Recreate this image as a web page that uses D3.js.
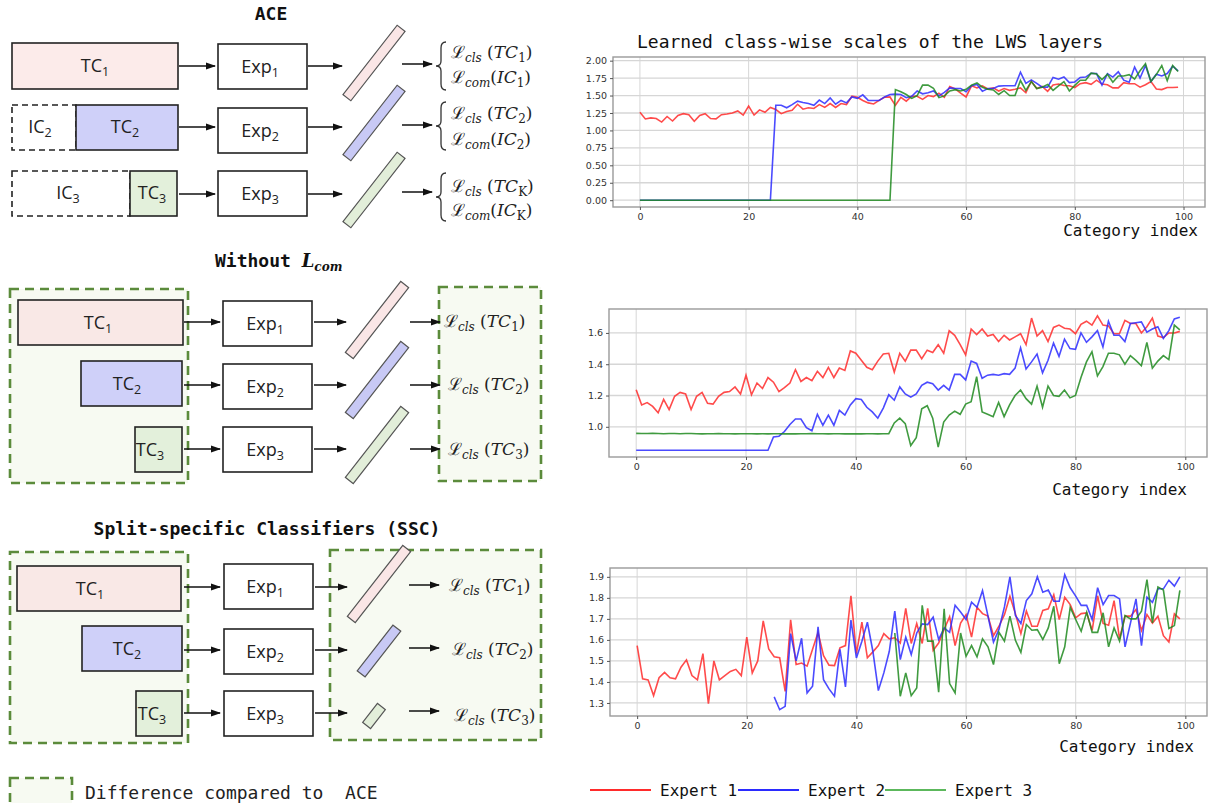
<!DOCTYPE html>
<html>
<head>
<meta charset="utf-8">
<script src="https://cdn.jsdelivr.net/npm/d3@7"></script>
<style>
  body { margin: 0; background: #fff; }
  svg { display: block; }
</style>
</head>
<body>
<div id="chart"></div>
<script>
// ---- data ----
const categories = d3.range(100);
const seriesNames = ["Expert 1", "Expert 2", "Expert 3"];
const seriesColors = ["#ff2b2b", "#2b2bff", "#1f8a1f"];
const legendColors = ["#ff2b2b", "#2b2bff", "#5cb85c"];
const xTicks = [0, 20, 40, 60, 80, 100];

// chart 1: ACE
const aceExpert1 = [1.26,1.165,1.18,1.17,1.12,1.20,1.135,1.215,1.24,1.225,
  1.13,1.215,1.24,1.17,1.165,1.225,1.235,1.25,1.28,1.22,
  1.35,1.22,1.295,1.26,1.33,1.30,1.24,1.27,1.29,1.375,
  1.305,1.325,1.315,1.37,1.33,1.385,1.33,1.385,1.37,1.49,
  1.475,1.43,1.395,1.38,1.43,1.475,1.48,1.36,1.475,1.42,
  1.49,1.49,1.445,1.50,1.485,1.535,1.475,1.63,1.595,1.535,
  1.48,1.64,1.61,1.64,1.595,1.61,1.565,1.60,1.575,1.59,
  1.61,1.54,1.705,1.60,1.63,1.56,1.65,1.665,1.645,1.64,
  1.615,1.67,1.685,1.66,1.72,1.665,1.655,1.61,1.61,1.685,
  1.67,1.67,1.62,1.655,1.70,1.595,1.585,1.615,1.615,1.62];
const aceExpert2 = [0,0,0,0,0,0,0,0,0,0,0,0,0,0,0,0,0,0,0,0,0,0,0,0,0,
  1.36,1.36,1.325,1.37,1.42,1.40,1.385,1.36,1.435,1.385,
  1.465,1.375,1.43,1.395,1.48,1.46,1.51,1.43,1.43,1.43,
  1.48,1.515,1.52,1.515,1.47,1.49,1.565,1.525,1.54,1.565,
  1.495,1.545,1.61,1.60,1.60,1.555,1.64,1.66,1.56,1.60,
  1.60,1.635,1.64,1.64,1.64,1.835,1.675,1.725,1.675,1.62,
  1.62,1.76,1.735,1.765,1.685,1.695,1.76,1.765,1.82,1.815,
  1.65,1.815,1.765,1.84,1.72,1.69,1.91,1.75,1.93,1.70,
  1.805,1.78,1.815,1.92,1.855];
const aceExpert3 = [0,0,0,0,0,0,0,0,0,0,0,0,0,0,0,0,0,0,0,0,0,0,0,0,
  0,0,0,0,0,0,0,0,0,0,0,0,0,0,0,0,0,0,0,0,0,0,0,
  1.585,1.555,1.515,1.46,1.50,1.65,1.65,1.605,1.47,1.495,
  1.565,1.585,1.565,1.59,1.65,1.68,1.62,1.59,1.58,1.515,
  1.57,1.50,1.50,1.715,1.575,1.70,1.60,1.62,1.66,1.575,
  1.64,1.70,1.565,1.645,1.72,1.72,1.82,1.81,1.73,1.805,
  1.69,1.78,1.78,1.80,1.735,1.855,1.955,1.70,1.80,1.93,
  1.715,1.93,1.845];

// chart 2: without L_com
const noComExpert1 = [1.237,1.14,1.155,1.13,1.09,1.175,1.11,1.195,1.22,1.21,
  1.11,1.195,1.22,1.15,1.145,1.195,1.22,1.225,1.255,1.21,
  1.33,1.205,1.28,1.245,1.315,1.285,1.225,1.25,1.28,1.365,
  1.29,1.315,1.295,1.355,1.315,1.38,1.315,1.375,1.36,1.485,
  1.47,1.425,1.38,1.365,1.42,1.465,1.47,1.35,1.47,1.42,
  1.49,1.49,1.435,1.49,1.475,1.525,1.47,1.615,1.585,1.525,
  1.46,1.625,1.59,1.625,1.58,1.59,1.545,1.585,1.555,1.575,
  1.595,1.525,1.695,1.58,1.615,1.545,1.635,1.65,1.63,1.625,
  1.595,1.655,1.675,1.65,1.71,1.65,1.645,1.595,1.595,1.68,
  1.66,1.66,1.60,1.64,1.695,1.58,1.57,1.60,1.60,1.61];
const noComExpert2 = [0.85,0.85,0.85,0.85,0.85,0.85,0.85,0.85,0.85,0.85,
  0.85,0.85,0.85,0.85,0.85,0.85,0.85,0.85,0.85,0.85,0.85,0.85,0.85,0.85,0.85,
  0.935,0.94,0.97,1.015,1.05,1.05,0.995,0.975,1.08,1.01,
  1.075,1.01,1.105,1.075,1.14,1.18,1.175,1.125,1.095,1.055,
  1.12,1.205,1.17,1.255,1.21,1.19,1.21,1.265,1.285,1.275,
  1.235,1.265,1.235,1.335,1.335,1.30,1.42,1.405,1.31,1.33,
  1.335,1.33,1.34,1.335,1.375,1.505,1.37,1.415,1.465,1.345,
  1.425,1.535,1.45,1.56,1.50,1.495,1.60,1.54,1.575,1.615,
  1.51,1.675,1.585,1.585,1.545,1.66,1.665,1.67,1.605,1.625,
  1.64,1.565,1.615,1.69,1.70];
const noComExpert3 = [0.958,0.957,0.957,0.958,0.957,0.956,0.957,0.957,0.956,0.957,
  0.957,0.956,0.955,0.956,0.956,0.957,0.956,0.956,0.955,0.956,
  0.956,0.956,0.955,0.956,0.955,0.956,0.956,0.955,0.956,0.955,
  0.956,0.956,0.957,0.956,0.956,0.955,0.956,0.956,0.955,0.956,
  0.955,0.955,0.956,0.956,0.955,0.956,0.956,
  1.025,1.055,1.02,0.88,0.93,1.115,1.135,1.055,0.87,1.03,
  1.075,1.10,1.08,1.145,1.16,1.32,1.095,1.08,1.065,1.155,
  1.065,1.14,1.20,1.235,1.18,1.145,1.26,1.125,1.26,1.20,
  1.195,1.235,1.185,1.20,1.315,1.415,1.48,1.325,1.385,1.47,
  1.47,1.46,1.40,1.455,1.425,1.39,1.54,1.375,1.42,1.455,
  1.43,1.65,1.62];

// chart 3: split-specific classifiers (null = not drawn)
const sscExpert1 = [1.573,1.415,1.41,1.335,1.42,1.445,1.42,1.415,1.47,1.505,
  1.43,1.41,1.535,1.297,1.50,1.41,1.43,1.45,1.46,1.43,
  1.613,1.443,1.50,1.69,1.557,1.52,1.515,1.355,1.695,1.483,
  1.49,1.475,1.555,1.635,1.525,1.48,1.478,1.562,1.573,1.81,
  1.535,1.685,1.515,1.543,1.573,1.63,1.605,1.61,1.585,1.75,
  1.583,1.678,1.583,1.75,1.55,1.585,1.65,1.71,1.573,1.68,
  1.72,1.613,1.755,1.725,1.713,1.62,1.665,1.72,1.808,1.725,
  1.63,1.737,1.665,1.665,1.74,1.748,1.815,1.697,1.803,1.768,
  1.705,1.725,1.728,1.645,1.81,1.678,1.67,1.787,1.605,1.713,
  1.713,1.745,1.645,1.72,1.68,1.713,1.62,1.59,1.724,1.70];
const sscExpert2 = [null,null,null,null,null,null,null,null,null,null,
  null,null,null,null,null,null,null,null,null,null,null,null,null,null,null,
  1.329,1.268,1.284,1.63,1.50,1.608,1.348,1.38,1.662,1.411,
  1.367,1.332,1.555,1.376,1.694,1.514,1.594,1.684,1.546,1.359,
  1.443,1.546,1.737,1.506,1.613,1.53,1.633,1.676,1.673,1.708,
  1.602,1.657,1.636,1.765,1.733,1.697,1.779,1.755,1.835,1.713,
  1.589,1.65,1.757,1.90,1.716,1.678,1.787,1.819,1.90,1.827,
  1.837,1.784,1.784,1.91,1.848,1.808,1.764,1.764,1.697,1.848,
  1.768,1.811,1.811,1.795,1.567,1.681,1.795,1.573,1.803,1.779,
  1.843,1.843,1.884,1.856,1.90];
const sscExpert3 = [null,null,null,null,null,null,null,null,null,null,
  null,null,null,null,null,null,null,null,null,null,
  null,null,null,null,null,null,null,null,null,null,
  null,null,null,null,null,null,null,null,null,null,
  null,null,null,null,null,null,null,
  1.633,1.332,1.443,1.335,1.371,1.764,1.594,1.594,1.351,1.748,
  1.392,1.348,1.633,1.522,1.573,1.519,1.605,1.567,1.483,1.636,
  1.594,1.713,1.598,1.541,1.673,1.646,1.649,1.602,1.657,1.76,
  1.487,1.567,1.755,1.697,1.641,1.732,1.636,1.636,1.729,1.567,
  1.657,1.594,1.716,1.70,1.70,1.737,1.887,1.681,1.852,1.837,
  1.654,1.668,1.835];

const aceYTicks = [0, 0.25, 0.5, 0.75, 1.0, 1.25, 1.5, 1.75, 2.0];
const noComYTicks = [1.0, 1.2, 1.4, 1.6];
const sscYTicks = [1.3, 1.4, 1.5, 1.6, 1.7, 1.8, 1.9];

// ---- drawing ----
const W = 1211, H = 803;
const svg = d3.select("#chart").append("svg").attr("width", W).attr("height", H);

const mono = "'DejaVu Sans Mono', monospace";
const sans = "'Open Sans', 'Noto Sans', sans-serif";
const serif = "'DejaVu Serif', 'Liberation Serif', serif";

const defs = svg.append("defs");
defs.append("marker").attr("id", "arr")
  .attr("viewBox", "0 0 10 10").attr("refX", 9).attr("refY", 5)
  .attr("markerWidth", 7).attr("markerHeight", 7).attr("orient", "auto")
  .append("path").attr("d", "M0,1.5 L10,5 L0,8.5 Z").attr("fill", "#111");

// line charts
function drawChart(cfg) {
  const g = svg.append("g");
  const xScale = d3.scaleLinear([-4.95, 103.95], [cfg.left, cfg.right]);
  const yScale = d3.scaleLinear(cfg.yDomain, [cfg.bottom, cfg.top]);

  // grid
  g.append("g").selectAll("line").data(xTicks).join("line")
    .attr("x1", d => xScale(d)).attr("x2", d => xScale(d))
    .attr("y1", cfg.top).attr("y2", cfg.bottom)
    .attr("stroke", "#d6d6d6").attr("stroke-width", 1);
  g.append("g").selectAll("line").data(cfg.yTicks).join("line")
    .attr("x1", cfg.left).attr("x2", cfg.right)
    .attr("y1", d => yScale(d)).attr("y2", d => yScale(d))
    .attr("stroke", "#d6d6d6").attr("stroke-width", 1.3);

  // series
  const line = d3.line()
    .defined(d => d[1] !== null)
    .x(d => xScale(d[0]))
    .y(d => yScale(d[1]));
  cfg.series.forEach((s, i) => {
    g.append("path")
      .datum(categories.map(c => [c, s[c]]))
      .attr("d", line)
      .attr("fill", "none")
      .attr("stroke", seriesColors[i])
      .attr("stroke-opacity", 0.85)
      .attr("stroke-width", 1.6);
  });

  // frame
  g.append("rect")
    .attr("x", cfg.left).attr("y", cfg.top)
    .attr("width", cfg.right - cfg.left).attr("height", cfg.bottom - cfg.top)
    .attr("fill", "none").attr("stroke", "#9a9a9a").attr("stroke-width", 1.4);

  // axes
  const xAxis = g.append("g")
    .attr("transform", `translate(0, ${cfg.bottom})`)
    .call(d3.axisBottom(xScale).tickValues(xTicks).tickSize(3).tickPadding(3).tickFormat(d3.format("d")));
  const yAxis = g.append("g")
    .attr("transform", `translate(${cfg.left}, 0)`)
    .call(d3.axisLeft(yScale).tickValues(cfg.yTicks).tickSize(3).tickPadding(3).tickFormat(d3.format(cfg.fmt)));
  [xAxis, yAxis].forEach(a => {
    a.select(".domain").remove();
    a.selectAll("line").attr("stroke", "#555");
    a.selectAll("text").attr("font-family", "'DejaVu Sans', sans-serif")
      .attr("font-size", 9.5).attr("fill", "#333");
  });

  g.append("text")
    .attr("x", cfg.labelX).attr("y", cfg.labelY)
    .attr("text-anchor", "end")
    .attr("font-family", mono).attr("font-size", 16).attr("fill", "#111")
    .text("Category index");
}

drawChart({ left: 613, right: 1205, top: 57, bottom: 207, yDomain: [-0.0975, 2.0525],
  yTicks: aceYTicks, fmt: ".2f",
  series: [aceExpert1, aceExpert2, aceExpert3], labelX: 1198, labelY: 236 });
drawChart({ left: 609, right: 1207, top: 309, bottom: 457, yDomain: [0.807, 1.753],
  yTicks: noComYTicks, fmt: ".1f",
  series: [noComExpert1, noComExpert2, noComExpert3], labelX: 1187, labelY: 495 });
drawChart({ left: 610, right: 1207, top: 568, bottom: 716, yDomain: [1.238, 1.942],
  yTicks: sscYTicks, fmt: ".1f",
  series: [sscExpert1, sscExpert2, sscExpert3], labelX: 1194, labelY: 752 });

svg.append("text").attr("x", 637).attr("y", 48)
  .attr("font-family", mono).attr("font-size", 18).attr("fill", "#111")
  .text("Learned class-wise scales of the LWS layers");

// series legend
const legendX = [590, 738, 885];
const leg = svg.append("g").selectAll("g").data(seriesNames).join("g")
  .attr("transform", (d, i) => `translate(${legendX[i]}, 790)`);
leg.append("line").attr("x1", 0).attr("x2", 61).attr("y1", 0).attr("y2", 0)
  .attr("stroke", (d, i) => legendColors[i]).attr("stroke-width", 2);
leg.append("text").attr("x", 70).attr("y", 6)
  .attr("font-family", mono).attr("font-size", 16).attr("fill", "#111")
  .text(d => d);

// ---- diagrams ----
function box(x, y, w, h, fill, dashed) {
  svg.append("rect").attr("x", x).attr("y", y).attr("width", w).attr("height", h)
    .attr("fill", fill).attr("stroke", "#222").attr("stroke-width", 1.6)
    .attr("stroke-dasharray", dashed ? "6,4" : null);
}
function greenBox(x, y, w, h) {
  svg.append("rect").attr("x", x).attr("y", y).attr("width", w).attr("height", h)
    .attr("fill", "#f7faf2").attr("stroke", "#5b8b3b").attr("stroke-width", 2.6)
    .attr("stroke-dasharray", "9,6");
}
function subLabel(cx, cy, main, sub) {
  const t = svg.append("text").attr("x", cx).attr("y", cy + 6)
    .attr("text-anchor", "middle").attr("font-family", sans)
    .attr("font-size", 18).attr("fill", "#222");
  t.append("tspan").text(main);
  t.append("tspan").attr("font-size", 12.5).attr("dy", 4).text(sub);
}
function arrow(x1, x2, y) {
  svg.append("line").attr("x1", x1).attr("x2", x2).attr("y1", y).attr("y2", y)
    .attr("stroke", "#111").attr("stroke-width", 1.5).attr("marker-end", "url(#arr)");
}
function slash(cx, cy, len, fill) {
  svg.append("rect").attr("x", -len / 2).attr("y", -5).attr("width", len).attr("height", 10)
    .attr("fill", fill).attr("stroke", "#555").attr("stroke-width", 1.2)
    .attr("transform", `translate(${cx},${cy}) rotate(-52)`);
}
function loss(x, y, kind, arg, sub, tight) {
  const t = svg.append("text").attr("x", x).attr("y", y)
    .attr("font-family", serif).attr("font-size", 17).attr("fill", "#222");
  t.append("tspan").text("\u2112");
  t.append("tspan").attr("font-style", "italic").attr("font-size", 12).attr("dy", 4).text(kind);
  t.append("tspan").attr("dy", -4).text(tight ? "(" : " (");
  t.append("tspan").attr("font-style", "italic").text(arg);
  t.append("tspan").attr("font-size", 12).attr("dy", 4).text(sub);
  t.append("tspan").attr("dy", -4).text(")");
}
function brace(x, y1, y2) {
  const m = (y1 + y2) / 2;
  svg.append("path")
    .attr("d", `M${x + 6},${y1} Q${x + 1},${y1} ${x + 1},${y1 + 6} L${x + 1},${m - 5}
      Q${x + 1},${m} ${x - 4},${m} Q${x + 1},${m} ${x + 1},${m + 5} L${x + 1},${y2 - 6}
      Q${x + 1},${y2} ${x + 6},${y2}`)
    .attr("fill", "none").attr("stroke", "#333").attr("stroke-width", 1.3);
}
function title(x, y, str, anchor) {
  return svg.append("text").attr("x", x).attr("y", y).attr("text-anchor", anchor || "middle")
    .attr("font-family", mono).attr("font-weight", "bold").attr("font-size", 18)
    .attr("fill", "#111").style("white-space", "pre").text(str);
}

const pink = "#fcebea", blue = "#cfd0f9", green = "#e3f0db";
const pinkC = "#fae6e6", blueC = "#c8c9f5", greenC = "#e2eed9";

// ACE
title(271, 20, "ACE");
box(12, 43, 166, 46, pink);
subLabel(95, 66, "TC", "1");
box(12, 105, 64, 45, "#fff", true);
subLabel(40, 127, "IC", "2");
box(76, 105, 102, 45, blue);
subLabel(125, 127, "TC", "2");
box(12, 171, 118, 45, "#fff", true);
subLabel(68, 193, "IC", "3");
box(130, 171, 47, 45, green);
subLabel(152, 193, "TC", "3");
[[44, 66], [108, 127], [171, 194]].forEach(([y, ay], i) => {
  box(218, y, 89, 45, "#fff");
  subLabel(260, y + 23, "Exp", String(i + 1));
  arrow(179, 215, ay);
  arrow(308, 342, ay);
  arrow(402, 432, ay - 2);
});
slash(374, 63, 88, pinkC);
slash(374, 123, 88, blueC);
slash(374, 190, 88, greenC);
brace(440, 42, 90); loss(451, 58, "cls", "TC", "1"); loss(451, 83, "com", "IC", "1", true);
brace(440, 102, 150); loss(451, 119, "cls", "TC", "2"); loss(451, 145, "com", "IC", "2", true);
brace(440, 173, 221); loss(451, 192, "cls", "TC", "K"); loss(451, 216, "com", "IC", "K", true);

// Without L_com
const t2 = title(215, 267, "Without ", "start");
t2.append("tspan").attr("font-family", serif).attr("font-style", "italic").text("L");
t2.append("tspan").attr("font-family", serif).attr("font-style", "italic")
  .attr("font-size", 12).attr("dy", 4).text("com");
greenBox(10, 289, 178, 194);
greenBox(439, 287, 102, 194);
box(18, 300, 165, 45, "#f9e8e6");
subLabel(98, 323, "TC", "1");
box(81, 361, 101, 45, blue);
subLabel(127, 384, "TC", "2");
box(135, 427, 47, 45, green);
subLabel(150, 450, "TC", "3");
[[301, 322], [364, 385], [427, 449]].forEach(([y, ay], i) => {
  box(223, y, 89, 45, "#fff");
  subLabel(265, y + 23, "Exp", String(i + 1));
  arrow(184, 220, ay);
  arrow(314, 346, ay);
  arrow(410, 440, ay);
});
slash(377, 320, 90, pinkC);
slash(377, 380, 90, blueC);
slash(377, 445, 90, greenC);
loss(444, 327, "cls", "TC", "1");
loss(448, 390, "cls", "TC", "2");
loss(448, 455, "cls", "TC", "3");

// SSC
title(267, 535, "Split-specific Classifiers (SSC)");
greenBox(10, 552, 178, 191);
greenBox(330, 550, 211, 190);
box(17, 566, 164, 45, "#f9e8e6");
subLabel(90, 589, "TC", "1");
box(82, 626, 100, 45, blue);
subLabel(127, 649, "TC", "2");
box(136, 691, 46, 45, green);
subLabel(152, 714, "TC", "3");
[[564, 587], [629, 650], [691, 713]].forEach(([y, ay], i) => {
  box(224, y, 89, 45, "#fff");
  subLabel(265, y + 23, "Exp", String(i + 1));
  arrow(184, 220, ay);
  arrow(315, 347, ay);
  arrow(409, 439, ay - 2);
});
slash(379, 584, 90, pinkC);
slash(379, 651, 58, blueC);
slash(374, 716, 24, greenC);
loss(449, 591, "cls", "TC", "1");
loss(452, 655, "cls", "TC", "2");
loss(454, 721, "cls", "TC", "3");

// bottom-left legend
greenBox(10, 778, 62, 40);
svg.append("text").attr("x", 85).attr("y", 799)
  .attr("font-family", mono).attr("font-size", 18).attr("fill", "#222")
  .style("white-space", "pre")
  .text("Difference compared to  ACE");
</script>
</body>
</html>
